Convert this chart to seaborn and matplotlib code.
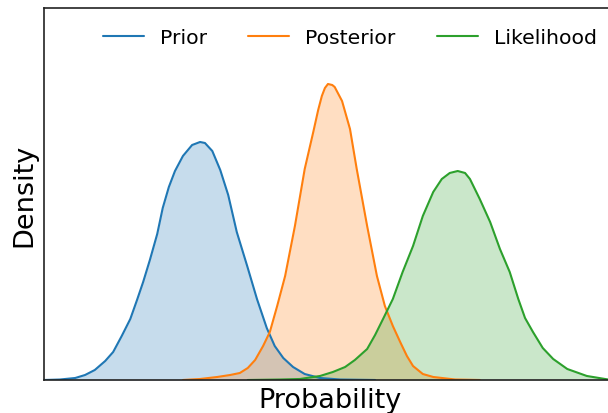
import numpy as np
import pandas as pd
import matplotlib
matplotlib.use("Agg")
import matplotlib.pyplot as plt
import seaborn as sns

# density curves (x = probability, y = density)
prior_x = [0.000, 0.026, 0.051, 0.067, 0.083, 0.100, 0.113, 0.127, 0.141, 0.152,
           0.162, 0.173, 0.185, 0.194, 0.204, 0.214, 0.227, 0.242, 0.255, 0.263,
           0.275, 0.288, 0.301, 0.315, 0.332, 0.348, 0.364, 0.377, 0.391, 0.407,
           0.426, 0.451, 0.484, 0.541]
prior_y = [0.0, 0.013, 0.054, 0.134, 0.269, 0.511, 0.753, 1.183, 1.640, 2.151,
           2.634, 3.226, 3.925, 4.624, 5.188, 5.618, 6.022, 6.317, 6.398, 6.371,
           6.156, 5.645, 4.973, 3.978, 3.065, 2.177, 1.398, 0.914, 0.591, 0.349,
           0.161, 0.054, 0.013, 0.0]

post_x = [0.227, 0.255, 0.283, 0.304, 0.320, 0.333, 0.345, 0.358, 0.369, 0.381,
          0.394, 0.410, 0.426, 0.440, 0.448, 0.454, 0.459, 0.464, 0.471, 0.475,
          0.487, 0.500, 0.511, 0.528, 0.544, 0.557, 0.570, 0.582, 0.593, 0.603,
          0.619, 0.636, 0.672, 0.712]
post_y = [0.0, 0.027, 0.081, 0.134, 0.188, 0.323, 0.538, 0.914, 1.290, 1.989,
          2.796, 4.140, 5.672, 6.667, 7.258, 7.634, 7.849, 7.957, 7.930, 7.876,
          7.500, 6.747, 5.672, 4.140, 2.796, 1.989, 1.452, 1.022, 0.645, 0.376,
          0.161, 0.081, 0.013, 0.0]

like_x = [0.333, 0.386, 0.418, 0.451, 0.472, 0.492, 0.508, 0.528, 0.541, 0.554,
          0.570, 0.586, 0.603, 0.619, 0.636, 0.650, 0.663, 0.676, 0.688, 0.696,
          0.712, 0.729, 0.745, 0.761, 0.775, 0.786, 0.799, 0.815, 0.832, 0.855,
          0.887, 0.922, 0.974]
like_y = [0.0, 0.013, 0.027, 0.108, 0.215, 0.349, 0.538, 0.833, 1.210, 1.640,
          2.177, 2.903, 3.602, 4.409, 5.054, 5.403, 5.565, 5.618, 5.565, 5.403,
          4.866, 4.247, 3.522, 2.903, 2.177, 1.667, 1.290, 0.860, 0.565, 0.296,
          0.108, 0.013, 0.0]

labels = ["Prior", "Posterior", "Likelihood"]
colors = ["tab:blue", "tab:orange", "tab:green"]

df = pd.concat([
    pd.DataFrame({"Probability": prior_x, "Density": prior_y, "dist": labels[0]}),
    pd.DataFrame({"Probability": post_x, "Density": post_y, "dist": labels[1]}),
    pd.DataFrame({"Probability": like_x, "Density": like_y, "dist": labels[2]}),
])

sns.set_style("white")
plt.rcParams["text.color"] = "black"
plt.rcParams["axes.labelcolor"] = "black"

fig = plt.figure(figsize=(6.08, 4.14), dpi=100)
# the right edge of the frame runs just past the image, as in the reference
ax = fig.add_axes([44 / 608, 33 / 414, 572 / 608, 372 / 414])

sns.lineplot(data=df, x="Probability", y="Density", hue="dist",
             palette=colors, linewidth=1.5, ax=ax)
for lab, col in zip(labels, colors):
    d = df[df["dist"] == lab]
    ax.fill_between(d["Probability"], d["Density"], color=col, alpha=0.25, linewidth=0)

ax.set_xlim(0, 572 / 612)
ax.set_ylim(0, 10)
ax.set_xticks([])
ax.set_yticks([])
for s in ax.spines.values():
    s.set_color("#222222")
    s.set_linewidth(1.2)
ax.set_xlabel("Probability", fontsize=19.5, labelpad=5)
ax.set_ylabel("Density", fontsize=19.5, labelpad=5)
ax.legend(loc="upper center", ncol=3, frameon=False, fontsize=14.7,
          bbox_to_anchor=(0.535, 0.995))

fig.savefig("out.png", dpi=100)
